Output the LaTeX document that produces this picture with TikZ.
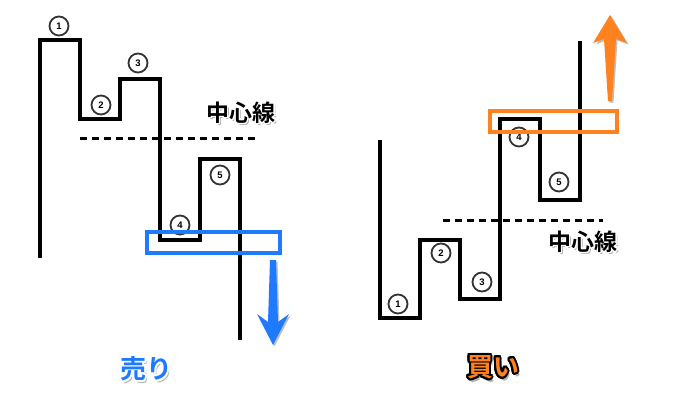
\documentclass[tikz,border=0pt]{standalone}
\usepackage{fontspec}
\newfontfamily\jp{Noto Sans CJK JP}[BoldFont={Noto Sans CJK JP Bold}]
\newfontfamily\numf{Liberation Sans}
\usepackage{contour}
\contournumber{24}
\definecolor{buyorange}{RGB}{255,130,30}
\definecolor{sellblue}{RGB}{30,122,255}
\tikzset{
  price/.style={line width=3.4pt, line join=miter, black},
  center/.style={line width=3pt, dash pattern=on 7pt off 5pt, black},
  numc/.style={circle, draw=black!80, fill=white, line width=1.8pt, minimum size=19pt, inner sep=0pt, font=\numf\bfseries\fontsize{9.5}{9.5}\selectfont},
  zone/.style={line width=3.4pt},
  shadowtxt/.style={text=black, text opacity=0.3},
}
\begin{document}
\begin{tikzpicture}[x=1pt,y=-1pt]
\useasboundingbox (0,0) rectangle (680,420);
\fill[white] (0,0) rectangle (680,420);

% ---- left (sell) ----
\draw[price] (40,258) -- (40,40) -- (80,40) -- (80,119) -- (120,119) -- (120,79) -- (160,79) -- (160,240) -- (200,240) -- (200,159) -- (240,159) -- (240,340);
\draw[center] (80,138) -- (256,138);
\node[numc] (l1) at (59,26) {1};
\node[numc] (l2) at (101,105) {2};
\node[numc] (l3) at (138,63) {3};
\node[numc] (l4) at (180,225) {4};
\node[numc] (l5) at (220,175) {5};
\draw[zone, draw=sellblue] (147,232) rectangle (280,253);
\fill[black, opacity=0.25] (271.5,261.5) -- (277.5,261.5) -- (279.5,323.5) -- (290.5,315.5) -- (274.5,346.5) -- (258.5,315.5) -- (269.5,323.5) -- cycle;
\fill[sellblue] (270,260) -- (276,260) -- (278,322) -- (289,314) -- (273,345) -- (257,314) -- (268,322) -- cycle;
\node[shadowtxt, font=\jp\bfseries\fontsize{23}{23}\selectfont] at (243,115) {中心線};
\node (lc) at (241,113) {\jp\bfseries\fontsize{23}{23}\selectfont\contourlength{1.3pt}\contour{white}{中心線}};
\node[shadowtxt, font=\jp\bfseries\fontsize{26}{26}\selectfont] at (148,372) {売り};
\node (sell) at (146,370) {\jp\bfseries\fontsize{26}{26}\selectfont\contourlength{2pt}\contour{white}{\textcolor{sellblue}{売り}}};

% ---- right (buy) ----
\draw[price] (380,140) -- (380,318) -- (420,318) -- (420,240) -- (460,240) -- (460,299) -- (500,299) -- (500,119) -- (540,119) -- (540,200) -- (580,200) -- (580,41);
\draw[center] (443,220) -- (603,220);
\node[numc] (r1) at (398,304) {1};
\node[numc] (r2) at (441,253) {2};
\node[numc] (r3) at (482,282) {3};
\node[numc] (r4) at (519,137) {4};
\node[numc] (r5) at (559,182) {5};
\draw[zone, draw=buyorange] (490,111) rectangle (617,132);
\fill[black, opacity=0.25] (611.5,16.5) -- (628.5,44.5) -- (617.5,40.5) -- (613.5,102.5) -- (609.5,102.5) -- (605.5,40.5) -- (596.5,44.5) -- cycle;
\fill[buyorange] (610,15) -- (627,43) -- (616,39) -- (612,101) -- (608,101) -- (604,39) -- (593,43) -- cycle;
\node[shadowtxt, font=\jp\bfseries\fontsize{23}{23}\selectfont] at (585,244) {中心線};
\node (rc) at (583,242) {\jp\bfseries\fontsize{23}{23}\selectfont\contourlength{1.3pt}\contour{white}{中心線}};
\node[shadowtxt, font=\jp\bfseries\fontsize{26}{26}\selectfont] at (495,371) {買い};
\node (buy) at (493,368) {\jp\bfseries\fontsize{26}{26}\selectfont\contourlength{2pt}\contour{black}{\textcolor{buyorange}{買い}}};
\end{tikzpicture}
\end{document}
